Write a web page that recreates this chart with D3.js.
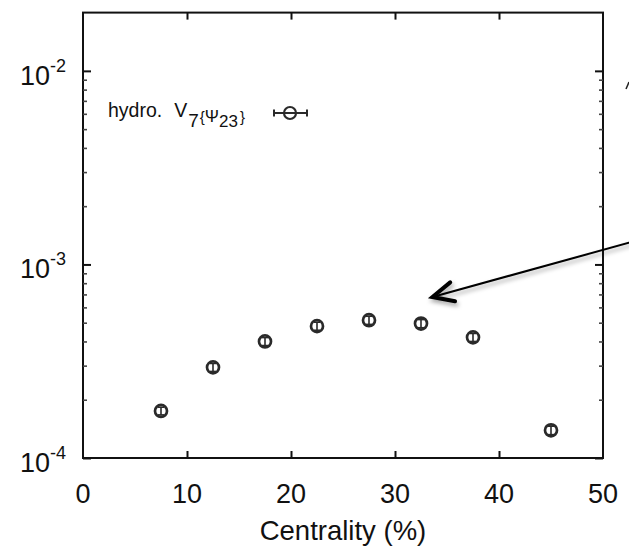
<!DOCTYPE html>
<html>
<head>
<meta charset="utf-8">
<script src="https://cdn.jsdelivr.net/npm/d3@7"></script>
<style>
  html, body { margin: 0; padding: 0; background: #fff; }
  svg { display: block; font-family: "Liberation Sans", Arial, Helvetica, sans-serif; }
</style>
</head>
<body>
<svg id="chart" width="629" height="547"></svg>
<script>
// ---- data ----
const centrality = [7.5, 12.5, 17.5, 22.5, 27.5, 32.5, 37.5, 45];
const v7 = [1.75e-4, 2.94e-4, 4.0e-4, 4.8e-4, 5.15e-4, 4.95e-4, 4.2e-4, 1.39e-4];
const v7Err = [0.08e-4, 0.14e-4, 0.19e-4, 0.23e-4, 0.25e-4, 0.24e-4, 0.2e-4, 0.07e-4];
const xTicks = [0, 10, 20, 30, 40, 50];
const yMajor = [1e-4, 1e-3, 1e-2];
const yMajorExp = ["-4", "-3", "-2"];
const yMinor = [2e-4,3e-4,4e-4,5e-4,6e-4,7e-4,8e-4,9e-4,2e-3,3e-3,4e-3,5e-3,6e-3,7e-3,8e-3,9e-3];
const arrowTip = [33.6, 6.79e-4];
const arrowTail = [53.5, 1.34e-3];

const svg = d3.select("#chart");
const L = 83, R = 603, T = 12.6, B = 458;
const x = d3.scaleLinear().domain([0, 50]).range([L, R]);
const y = d3.scaleLog().domain([1e-4, 2e-2]).range([B, T]);

const ink = "#111";

// frame
svg.append("rect").attr("x", L).attr("y", T).attr("width", R - L).attr("height", B - T)
  .attr("fill", "none").attr("stroke", ink).attr("stroke-width", 2);

function styleAxis(g, w, col) {
  g.select(".domain").remove();
  g.selectAll(".tick line").attr("stroke", col || ink).attr("stroke-width", w);
  g.selectAll(".tick text").remove();
}

// x axes (bottom & top, inward ticks)
svg.append("g").attr("transform", `translate(0,${B})`)
  .call(d3.axisBottom(x).tickValues(xTicks.slice(1, -1)).tickSize(-7).tickFormat(""))
  .call(g => styleAxis(g, 2));
svg.append("g").attr("transform", `translate(0,${T})`)
  .call(d3.axisTop(x).tickValues(xTicks.slice(1, -1)).tickSize(-7).tickFormat(""))
  .call(g => styleAxis(g, 2));

// y axes major & minor
svg.append("g").attr("transform", `translate(${L},0)`)
  .call(d3.axisLeft(y).tickValues(yMajor).tickSize(-8).tickFormat(""))
  .call(g => styleAxis(g, 2));
svg.append("g").attr("transform", `translate(${R},0)`)
  .call(d3.axisRight(y).tickValues(yMajor).tickSize(-8).tickFormat(""))
  .call(g => styleAxis(g, 2));
svg.append("g").attr("transform", `translate(${L},0)`)
  .call(d3.axisLeft(y).tickValues(yMinor).tickSize(-4).tickFormat(""))
  .call(g => styleAxis(g, 1.6, "#444"));
svg.append("g").attr("transform", `translate(${R},0)`)
  .call(d3.axisRight(y).tickValues(yMinor).tickSize(-4).tickFormat(""))
  .call(g => styleAxis(g, 1.6, "#444"));

// x tick labels
svg.append("g").selectAll("text").data(xTicks).join("text")
  .attr("x", d => x(d)).attr("y", 503)
  .attr("text-anchor", "middle").attr("font-size", 27).attr("fill", ink)
  .text(d => d);

// y tick labels with superscripts
yMajor.forEach((v, i) => {
  const t = svg.append("text").attr("x", 66).attr("y", y(v) + 14)
    .attr("text-anchor", "end").attr("font-size", 27).attr("fill", ink);
  t.append("tspan").text("10");
  t.append("tspan").attr("dy", -13).attr("font-size", 18).text(yMajorExp[i]);
});

// axis title
svg.append("text").attr("x", (L + R) / 2).attr("y", 540)
  .attr("text-anchor", "middle").attr("font-size", 27.5).attr("fill", ink)
  .text("Centrality (%)");

// data points
const pts = svg.append("g");
const mk = "#2a2a2a";
centrality.forEach((c, i) => {
  const cx = x(c), cy = y(v7[i]);
  const y0 = y(v7[i] - v7Err[i]), y1 = y(v7[i] + v7Err[i]);
  pts.append("circle").attr("cx", cx).attr("cy", cy).attr("r", 6)
    .attr("fill", "#fff").attr("stroke", mk).attr("stroke-width", 2.7);
  pts.append("line").attr("x1", cx).attr("x2", cx).attr("y1", y0).attr("y2", y1)
    .attr("stroke", mk).attr("stroke-width", 1.6);
  [y0, y1].forEach(yy => pts.append("line").attr("x1", cx - 3).attr("x2", cx + 3)
    .attr("y1", yy).attr("y2", yy).attr("stroke", mk).attr("stroke-width", 1.6));
});

// legend
const lg = svg.append("text").attr("x", 108).attr("y", 117)
  .attr("font-size", 19.5).attr("fill", ink);
lg.append("tspan").text("hydro.");
lg.append("tspan").attr("dx", 12).text("V");
lg.append("tspan").attr("dx", 1).attr("dy", 10).attr("font-size", 19).text("7");
lg.append("tspan").attr("dx", 1).attr("dy", -5).attr("font-size", 15).text("{");
lg.append("tspan").attr("font-size", 17).text("Ψ");
lg.append("tspan").attr("dy", 5).attr("font-size", 17).text("23");
lg.append("tspan").attr("dx", 2).attr("dy", -5).attr("font-size", 15).text("}");
const lx = 290, ly = 113;
svg.append("line").attr("x1", lx - 16).attr("x2", lx + 17).attr("y1", ly).attr("y2", ly)
  .attr("stroke", mk).attr("stroke-width", 2);
[lx - 16, lx + 17].forEach(xx => svg.append("line").attr("x1", xx).attr("x2", xx)
  .attr("y1", ly - 3.5).attr("y2", ly + 3.5).attr("stroke", mk).attr("stroke-width", 2));
svg.append("circle").attr("cx", lx).attr("cy", ly).attr("r", 6)
  .attr("fill", "none").attr("stroke", mk).attr("stroke-width", 2.2);

// annotation arrow
const defs = svg.append("defs");
const f = defs.append("filter").attr("id", "sh").attr("x", "-20%").attr("y", "-50%")
  .attr("width", "140%").attr("height", "200%");
f.append("feDropShadow").attr("dx", 1.5).attr("dy", 3).attr("stdDeviation", 2)
  .attr("flood-color", "#000").attr("flood-opacity", 0.35);
const tx = x(arrowTip[0]), ty = y(arrowTip[1]);
const ex = x(arrowTail[0]), ey = y(arrowTail[1]);
const ang = Math.atan2(ey - ty, ex - tx);
const arm = (da, len) => [tx + len * Math.cos(ang + da), ty + len * Math.sin(ang + da)];
const a1 = arm(-0.42, 23), a2 = arm(0.46, 23);
const ag = svg.append("g").attr("filter", "url(#sh)");
ag.append("line").attr("x1", tx).attr("y1", ty).attr("x2", ex).attr("y2", ey)
  .attr("stroke", "#000").attr("stroke-width", 2);
ag.append("path").attr("d", `M${a1[0]},${a1[1]}L${tx},${ty}L${a2[0]},${a2[1]}`)
  .attr("fill", "none").attr("stroke", "#000").attr("stroke-width", 4)
  .attr("stroke-linecap", "round").attr("stroke-linejoin", "miter");

// clipped fragment at right edge
svg.append("line").attr("x1", 626).attr("y1", 89).attr("x2", 629).attr("y2", 82)
  .attr("stroke", "#222").attr("stroke-width", 1.5);
</script>
</body>
</html>
